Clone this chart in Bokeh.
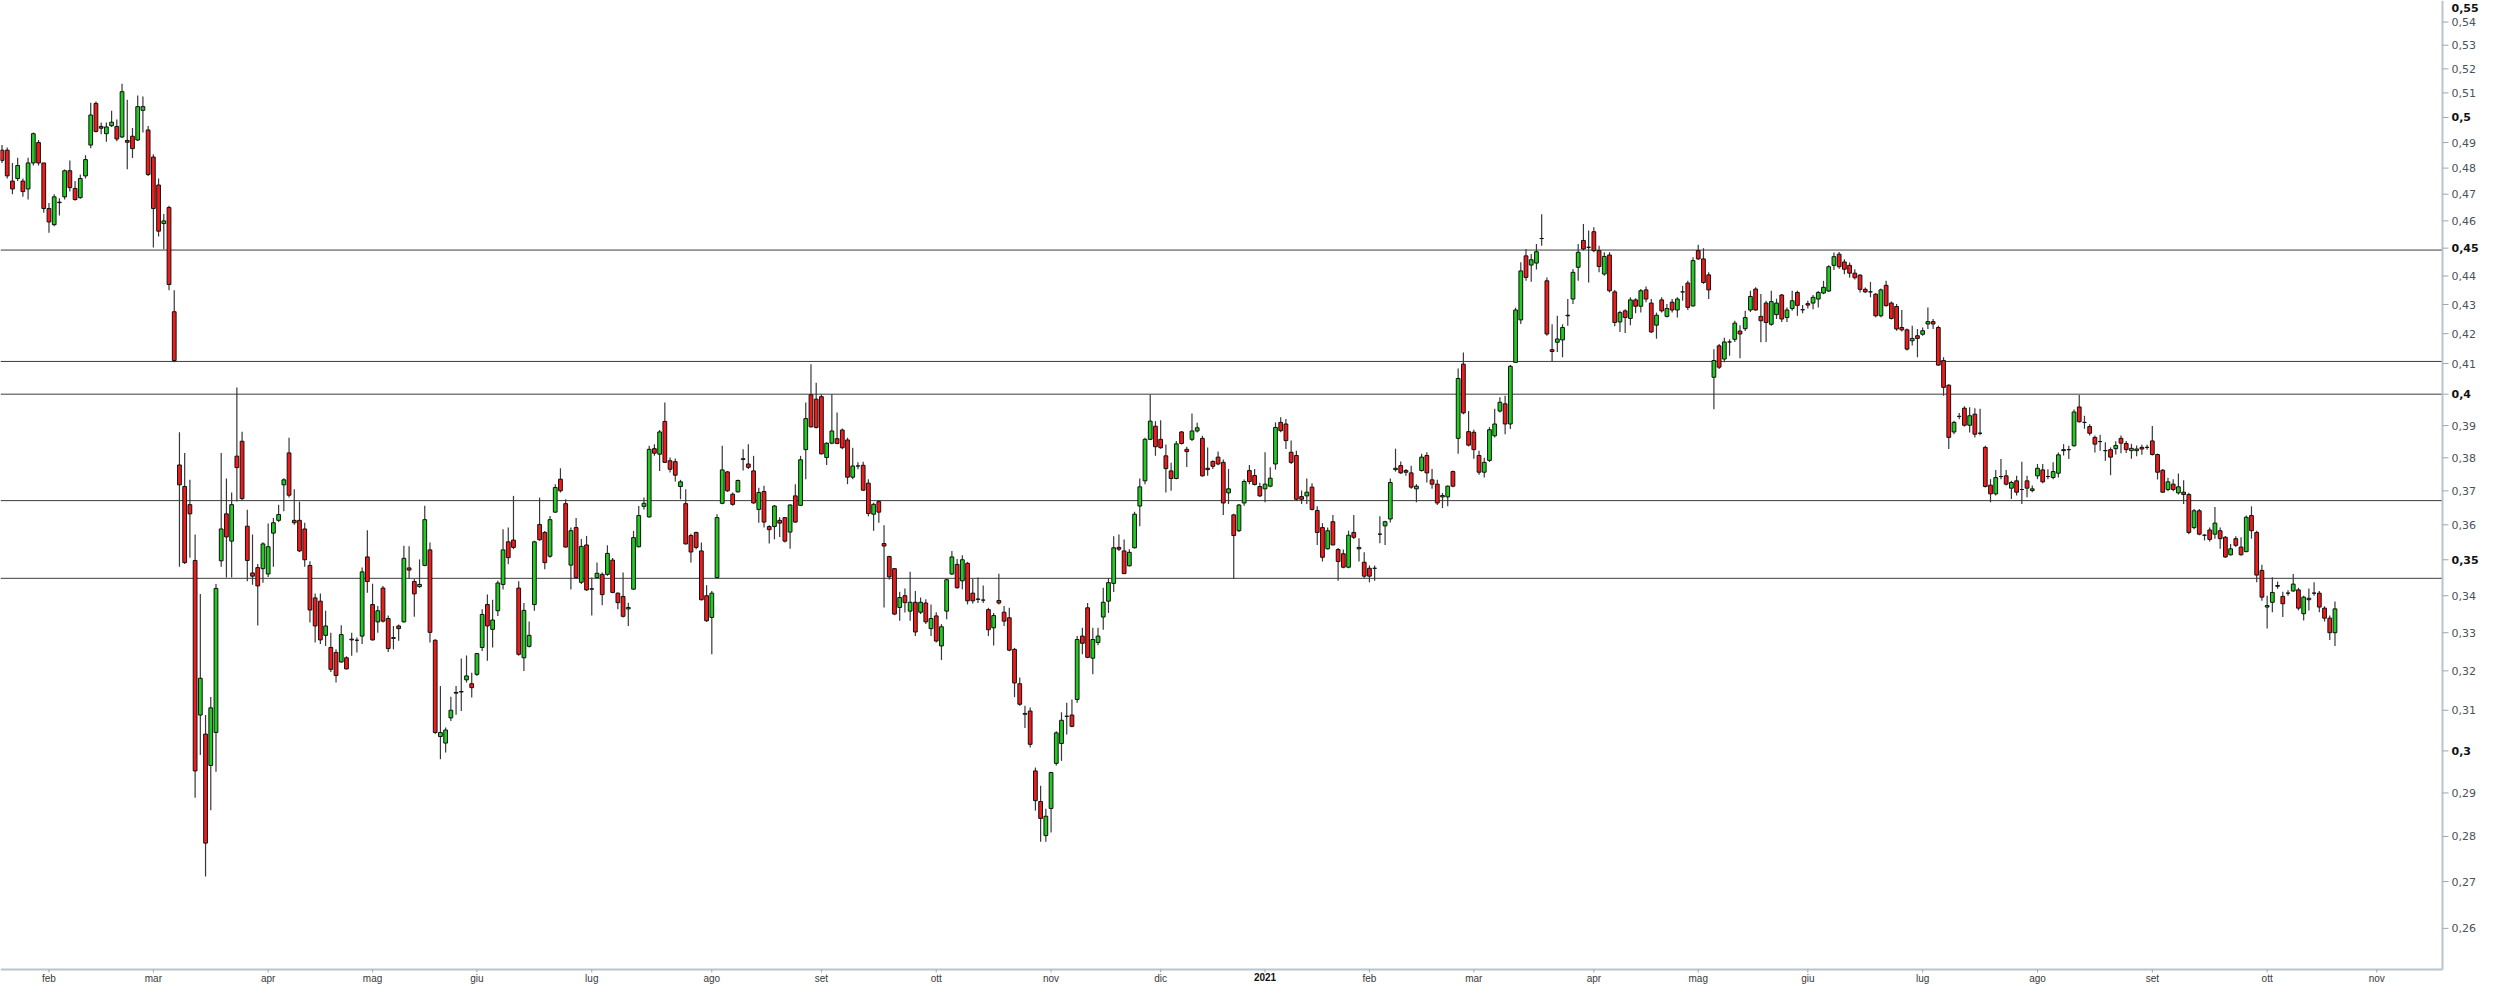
import math
from bokeh.plotting import figure
from bokeh.models import ColumnDataSource
from bokeh.core.properties import value, field
from bokeh.embed import file_html
from bokeh.resources import INLINE

# ---- data ----
opens = [
 .487, .487, .475, .476, .475, .472, .482, .490, .482, .4646,
 .4586, .4668, .469, .479, .4722, .4687, .477, .489, .5057, .4964,
 .4935, .4967, .4964, .4922, .4908, .4925, .4910, .5029, .4950, .4843,
 .4735, .4590, .4650, .4275, .3778, .3713, .3659, .3498, .3088, .3041,
 .2965, .3045, .3497, .3632, .3553, .3805, .3851, .3596, .3463, .3478,
 .3475, .3460, .3576, .3613, .3718, .3815, .3613, .3613, .3588, .3484,
 .3394, .3385, .3293, .3261, .3248, .3223, .3234, .3281, .3280, .3291,
 .3508, .3376, .3329, .3421, .3338, .3287, .3318, .3329, .3477, .3439,
 .3425, .3484, .3528, .3280, .3035, .3019, .3081, .3143, .3146, .3177,
 .3167, .3191, .3261, .3376, .3309, .3359, .3431, .3551, .3556, .3421,
 .3234, .3264, .3376, .3601, .3578, .3510, .3637, .3735, .3662, .3485,
 .3592, .3437, .3542, .3419, .3450, .3459, .3459, .3499, .3407, .3398,
 .3364, .3418, .3537, .3654, .3623, .3828, .3811, .3913, .3791, .3788,
 .3713, .3662, .3569, .3578, .3525, .3400, .3341, .3450, .3663, .3757,
 .3690, .3697, .3795, .3781, .3760, .3645, .3698, .3595, .3595, .3613,
 .3621, .3579, .3685, .3657, .3825, .3998, .3984, .3992, .3801, .3845,
 .3859, .3886, .3855, .3741, .3775, .3777, .3723, .3631, .3668, .3546,
 .3509, .3475, .3368, .3400, .3358, .3382, .3355, .3380, .3311, .3345,
 .3265, .3358, .3460, .3487, .3441, .3490, .3407, .3390, .3388, .3362,
 .3313, .3387, .3355, .3340, .3256, .3167, .3090, .3098, .2952, .2880,
 .2802, .2864, .2970, .3018, .3085, .3088, .3127, .3291, .3367, .3233,
 .3274, .3342, .3385, .3434, .3535, .3525, .3483, .3534, .3655, .3730,
 .3857, .3898, .3857, .3806, .3760, .3737, .3880, .3826, .3857, .3883,
 .3860, .3768, .3789, .3802, .3786, .3694, .3629, .3583, .3664, .3761,
 .3746, .3713, .3706, .3714, .3781, .3910, .3905, .3817, .3807, .3683,
 .3685, .3711, .3642, .3592, .3531, .3609, .3529, .3517, .3479, .3578,
 .3531, .3493, .3476, .3476, .3573, .3597, .3617, .3764, .3776, .3761,
 .3754, .3706, .3761, .3807, .3733, .3720, .3682, .3682, .3758, .3860,
 .4098, .3881, .3879, .3807, .3756, .3792, .3868, .3946, .3969, .3905,
 .4104, .4247, .4472, .4439, .4446, .4535, .4383, .4146, .4171, .4179,
 .4261, .4319, .4431, .4528, .4503, .4560, .4491, .4407, .4475, .4344,
 .4240, .4278, .4252, .4316, .4294, .4351, .4305, .4229, .4316, .4259,
 .4308, .4281, .4344, .4375, .4295, .4491, .4461, .4404, .4055, .4159,
 .4115, .4172, .4181, .4209, .4217, .4281, .4354, .4259, .4305, .4232,
 .4265, .4333, .4255, .4286, .4342, .4282, .4303, .4305, .4319, .4340,
 .4347, .4438, .4478, .4450, .4438, .4410, .4403, .4353, .4344, .4336,
 .4261, .4367, .4305, .4293, .4221, .4213, .4176, .4193, .4198, .4233,
 .4241, .4221, .4110, .4029, .3880, .3929, .3955, .3901, .3936, .3876,
 .3832, .3717, .3691, .3743, .3745, .3708, .3730, .3704, .3730, .3701,
 .3745, .3763, .3743, .3740, .3753, .3822, .3825, .3837, .3959, .3910,
 .3897, .3863, .3850, .3822, .3825, .3828, .3860, .3844, .3822, .3822,
 .3832, .3832, .3852, .3810, .3762, .3704, .3720, .3694, .3696, .3689,
 .3592, .3641, .3570, .3585, .3573, .3583, .3564, .3514, .3560, .3536,
 .3523, .3627, .3578, .3470, .3369, .3382, .3426, .3398, .3407, .3413,
 .3416, .3351, .3389, .3407, .3407, .3366, .3339, .3300,
]
highs = [
 .489, .488, .482, .484, .476, .484, .494, .491, .482, .4667,
 .470, .4685, .4795, .483, .475, .4775, .485, .506, .5065, .498,
 .498, .5027, .4992, .5138, .5072, .4958, .5089, .5085, .4966, .4854,
 .476, .4626, .4656, .4350, .3879, .3815, .3733, .3572, .3405, .3088,
 .3133, .3432, .3815, .3737, .3695, .4022, .3881, .3644, .3572, .3488,
 .3550, .3604, .3620, .3659, .3738, .3862, .3705, .3668, .3606, .3496,
 .3406, .3406, .3359, .3300, .3256, .3320, .3238, .3300, .3287, .3478,
 .3584, .3433, .3372, .3427, .3346, .3318, .3322, .3540, .3538, .3446,
 .3501, .3656, .3549, .3283, .3161, .3057, .3134, .3161, .3232, .3240,
 .3195, .3246, .3363, .3403, .3389, .3441, .3587, .3592, .3685, .3440,
 .3380, .3330, .3554, .3680, .3582, .3626, .3720, .3768, .3675, .3592,
 .3620, .3559, .3568, .3450, .3492, .3464, .3541, .3505, .3409, .3464,
 .3381, .3582, .3655, .3680, .3837, .3842, .3886, .3973, .3801, .3798,
 .3733, .3705, .3574, .3580, .3549, .3429, .3413, .3631, .3837, .3760,
 .3695, .3734, .3826, .3842, .3806, .3709, .3715, .3599, .3658, .3622,
 .3623, .3660, .3720, .3806, .3973, .4098, .4037, .4000, .3847, .4000,
 .3941, .3891, .3862, .3831, .3786, .3788, .3735, .3665, .3672, .3599,
 .3511, .3477, .3411, .3420, .3466, .3413, .3395, .3390, .3376, .3355,
 .3323, .3446, .3525, .3502, .3513, .3494, .3446, .3450, .3428, .3367,
 .3353, .3461, .3372, .3367, .3260, .3183, .3111, .3107, .2960, .2917,
 .2863, .2950, .3048, .3095, .3119, .3127, .3291, .3313, .3380, .3313,
 .3313, .3422, .3448, .3567, .3572, .3558, .3530, .3638, .3737, .3862,
 .3999, .3914, .3917, .3841, .3785, .3852, .3883, .3834, .3938, .3909,
 .3868, .3832, .3792, .3819, .3795, .3766, .3632, .3661, .3734, .3778,
 .3766, .3724, .3817, .3771, .3910, .3926, .3921, .3853, .3822, .3701,
 .3737, .3723, .3654, .3605, .3592, .3629, .3533, .3529, .3583, .3629,
 .3561, .3521, .3484, .3484, .3625, .3612, .3737, .3828, .3789, .3766,
 .3776, .3720, .3812, .3817, .3766, .3733, .3694, .3716, .3761, .4084,
 .4137, .3946, .3887, .3822, .3800, .3895, .3953, .3990, .3995, .4095,
 .4289, .4449, .4497, .4479, .4515, .4625, .4395, .4232, .4261, .4232,
 .4319, .4425, .4515, .4588, .4564, .4576, .4509, .4485, .4485, .4351,
 .4278, .4284, .4325, .4322, .4354, .4363, .4319, .4272, .4325, .4302,
 .4319, .4325, .4365, .4383, .4467, .4512, .4500, .4413, .4148, .4165,
 .4186, .4181, .4244, .4229, .4278, .4348, .4360, .4337, .4313, .4348,
 .4320, .4337, .4290, .4348, .4348, .4298, .4313, .4333, .4347, .4383,
 .4438, .4484, .4486, .4460, .4448, .4424, .4406, .4359, .4379, .4340,
 .4356, .4383, .4310, .4302, .4281, .4218, .4227, .4216, .4221, .4290,
 .4250, .4227, .4121, .4032, .3915, .3940, .3961, .3958, .3955, .3953,
 .3837, .3735, .3763, .3796, .3763, .3730, .3745, .3788, .3745, .3716,
 .3781, .3781, .3765, .3786, .3816, .3842, .3837, .3951, .3997, .3931,
 .3904, .3869, .3871, .3848, .3832, .3851, .3869, .3852, .3843, .3838,
 .3840, .3840, .3899, .3813, .3766, .3739, .3735, .3752, .3732, .3694,
 .3646, .3646, .3573, .3592, .3652, .3592, .3568, .3545, .3567, .3564,
 .3627, .3654, .3583, .3486, .3400, .3451, .3439, .3411, .3415, .3460,
 .3422, .3400, .3420, .3437, .3413, .3371, .3346, .3384,
]
lows = [
 .482, .476, .470, .475, .469, .468, .481, .481, .463, .4556,
 .458, .462, .468, .471, .4675, .4683, .476, .4877, .494, .4933,
 .4903, .4962, .4905, .4918, .4796, .4839, .4906, .4940, .4770, .4502,
 .4542, .4496, .4350, .4104, .3480, .3488, .3506, .2889, .2990, .2711,
 .2860, .2950, .3480, .3450, .3450, .3668, .3672, .3440, .3430, .3319,
 .3436, .3452, .3480, .3608, .3640, .3680, .3600, .3522, .3480, .3327,
 .3274, .3270, .3265, .3197, .3170, .3221, .3204, .3239, .3248, .3270,
 .3408, .3279, .3300, .3327, .3249, .3256, .3279, .3327, .3446, .3343,
 .3422, .3482, .3274, .3041, .2980, .2996, .3073, .3089, .3098, .3170,
 .3132, .3187, .3252, .3226, .3261, .3345, .3417, .3487, .3530, .3239,
 .3200, .3261, .3359, .3554, .3473, .3506, .3635, .3695, .3535, .3417,
 .3446, .3432, .3413, .3346, .3448, .3374, .3455, .3407, .3363, .3341,
 .3318, .3416, .3535, .3645, .3621, .3806, .3760, .3784, .3755, .3728,
 .3675, .3543, .3492, .3530, .3387, .3329, .3243, .3449, .3660, .3697,
 .3656, .3695, .3761, .3766, .3662, .3606, .3592, .3546, .3558, .3565,
 .3549, .3531, .3606, .3655, .3735, .3894, .3891, .3810, .3778, .3842,
 .3842, .3826, .3720, .3735, .3765, .3700, .3625, .3583, .3606, .3368,
 .3445, .3347, .3332, .3354, .3332, .3291, .3350, .3323, .3291, .3274,
 .3228, .3336, .3457, .3419, .3418, .3376, .3379, .3380, .3380, .3291,
 .3266, .3376, .3318, .3251, .3133, .3111, .3056, .3008, .2859, .2788,
 .2788, .2809, .2965, .2976, .3040, .3058, .3119, .3243, .3233, .3191,
 .3267, .3308, .3353, .3410, .3525, .3460, .3481, .3532, .3596, .3720,
 .3855, .3806, .3828, .3695, .3700, .3735, .3841, .3772, .3852, .3878,
 .3743, .3745, .3766, .3777, .3629, .3661, .3447, .3579, .3656, .3720,
 .3716, .3682, .3666, .3711, .3764, .3879, .3827, .3781, .3670, .3661,
 .3661, .3642, .3542, .3495, .3529, .3541, .3441, .3476, .3476, .3559,
 .3495, .3449, .3437, .3441, .3547, .3542, .3607, .3758, .3751, .3745,
 .3706, .3666, .3758, .3725, .3706, .3658, .3649, .3654, .3711, .3812,
 .3936, .3835, .3797, .3748, .3740, .3787, .3863, .3941, .3873, .3889,
 .4102, .4233, .4383, .4380, .4423, .4509, .4193, .4106, .4138, .4121,
 .4227, .4302, .4383, .4491, .4377, .4485, .4413, .4401, .4342, .4225,
 .4206, .4202, .4229, .4270, .4272, .4308, .4202, .4183, .4272, .4255,
 .4272, .4255, .4313, .4281, .4293, .4458, .4372, .4319, .3952, .4082,
 .4104, .4126, .4172, .4118, .4209, .4274, .4278, .4171, .4172, .4227,
 .4250, .4240, .4240, .4278, .4261, .4270, .4286, .4284, .4290, .4336,
 .4344, .4421, .4426, .4406, .4394, .4388, .4342, .4340, .4325, .4256,
 .4256, .4293, .4248, .4210, .4207, .4143, .4160, .4121, .4193, .4216,
 .4216, .4093, .3995, .3827, .3873, .3920, .3897, .3878, .3863, .3870,
 .3710, .3666, .3686, .3735, .3716, .3676, .3686, .3661, .3681, .3696,
 .3735, .3723, .3735, .3735, .3740, .3807, .3796, .3835, .3910, .3890,
 .3869, .3816, .3822, .3791, .3747, .3810, .3814, .3815, .3797, .3805,
 .3809, .3825, .3807, .3734, .3694, .3699, .3699, .3689, .3661, .3573,
 .3587, .3570, .3555, .3552, .3560, .3531, .3505, .3512, .3536, .3512,
 .3521, .3560, .3437, .3386, .3311, .3355, .3419, .3342, .3400, .3411,
 .3360, .3333, .3360, .3400, .3355, .3330, .3281, .3265,
]
closes = [
 .483, .477, .472, .481, .471, .482, .4935, .482, .4646, .4596,
 .469, .4670, .479, .4725, .468, .476, .4833, .501, .4944, .4957,
 .4962, .4981, .4914, .5105, .4901, .4876, .5044, .5044, .4775, .4646,
 .4562, .4600, .4370, .4110, .3718, .3492, .3632, .2952, .3181, .2785,
 .3106, .3420, .3588, .3565, .3659, .3770, .3677, .3498, .3454, .3427,
 .3545, .3537, .3606, .3630, .3733, .3687, .3606, .3525, .3500, .3361,
 .3318, .3281, .3318, .3204, .3188, .3295, .3205, .3283, .3280, .3466,
 .3439, .3281, .3359, .3331, .3258, .3285, .3311, .3504, .3471, .3405,
 .3431, .3615, .3301, .3045, .3045, .3051, .3100, .3145, .3147, .3187,
 .3157, .3245, .3349, .3318, .3334, .3435, .3528, .3506, .3535, .3243,
 .3360, .3293, .3551, .3557, .3492, .3615, .3710, .3700, .3536, .3583,
 .3450, .3538, .3416, .3418, .3462, .3403, .3518, .3409, .3381, .3344,
 .3368, .3563, .3627, .3663, .3826, .3814, .3880, .3786, .3765, .3747,
 .3727, .3545, .3522, .3535, .3389, .3332, .3407, .3621, .3763, .3700,
 .3660, .3731, .3797, .3771, .3664, .3695, .3608, .3586, .3655, .3605,
 .3553, .3658, .3608, .3794, .3922, .3896, .3894, .3812, .3845, .3883,
 .3844, .3831, .3741, .3775, .3775, .3702, .3633, .3660, .3637, .3539,
 .3452, .3350, .3395, .3381, .3382, .3302, .3382, .3329, .3338, .3278,
 .3316, .3444, .3508, .3422, .3500, .3386, .3386, .3391, .3388, .3308,
 .3346, .3380, .3331, .3254, .3169, .3115, .3092, .3016, .2882, .2841,
 .2846, .2948, .3044, .3075, .3085, .3060, .3282, .3272, .3235, .3282,
 .3291, .3382, .3436, .3534, .3530, .3461, .3521, .3631, .3712, .3857,
 .3914, .3834, .3831, .3767, .3737, .3843, .3844, .3819, .3883, .3893,
 .3745, .3764, .3774, .3781, .3664, .3706, .3569, .3658, .3728, .3728,
 .3719, .3685, .3720, .3738, .3894, .3884, .3853, .3786, .3675, .3675,
 .3696, .3645, .3578, .3507, .3583, .3542, .3495, .3479, .3570, .3564,
 .3535, .3454, .3454, .3476, .3573, .3609, .3725, .3768, .3754, .3756,
 .3711, .3714, .3802, .3754, .3720, .3664, .3686, .3714, .3714, .4051,
 .3940, .3839, .3825, .3756, .3786, .3887, .3905, .3974, .3905, .4091,
 .4281, .4418, .4395, .4458, .4487, .4535, .4199, .4140, .4182, .4221,
 .4263, .4413, .4485, .4497, .4503, .4491, .4434, .4470, .4348, .4238,
 .4272, .4255, .4316, .4294, .4348, .4319, .4206, .4263, .4278, .4286,
 .4281, .4319, .4344, .4290, .4455, .4461, .4377, .4351, .4110, .4088,
 .4172, .4172, .4236, .4199, .4255, .4328, .4281, .4244, .4238, .4310,
 .4305, .4250, .4281, .4313, .4297, .4282, .4298, .4325, .4342, .4360,
 .4433, .4469, .4433, .4424, .4410, .4394, .4353, .4344, .4344, .4261,
 .4351, .4296, .4252, .4216, .4213, .4148, .4184, .4184, .4210, .4241,
 .4233, .4095, .4022, .3863, .3910, .3929, .3901, .3931, .3873, .3876,
 .3713, .3691, .3740, .3743, .3720, .3725, .3696, .3704, .3708, .3706,
 .3768, .3727, .3743, .3758, .3809, .3825, .3825, .3943, .3912, .3910,
 .3876, .3842, .3850, .3822, .3802, .3838, .3845, .3825, .3829, .3827,
 .3827, .3832, .3810, .3756, .3696, .3727, .3704, .3712, .3689, .3578,
 .3641, .3573, .3570, .3558, .3605, .3560, .3508, .3531, .3541, .3514,
 .3622, .3583, .3457, .3396, .3373, .3409, .3428, .3378, .3407, .3432,
 .3366, .3396, .3393, .3407, .3369, .3339, .3300, .3364,
]

# month ticks: trading-day index of the first session of each month
month_idx = [9, 29, 51, 71, 91, 113, 136, 157, 179, 201, 222, 242,
             262, 282, 305, 325, 346, 368, 390, 412, 434, 455]
month_lbl = ["feb", "mar", "apr", "mag", "giu", "lug", "ago", "set", "ott", "nov", "dic", "2021",
             "feb", "mar", "apr", "mag", "giu", "lug", "ago", "set", "ott", "nov"]
bold_x_lbl = ["2021"]

y_ticks = [0.26, 0.27, 0.28, 0.29, 0.3, 0.31, 0.32, 0.33, 0.34, 0.35, 0.36, 0.37, 0.38, 0.39, 0.4,
           0.41, 0.42, 0.43, 0.44, 0.45, 0.46, 0.47, 0.48, 0.49, 0.5, 0.51, 0.52, 0.53, 0.54, 0.55]
y_lbl = ["0,26", "0,27", "0,28", "0,29", "0,3", "0,31", "0,32", "0,33", "0,34", "0,35", "0,36", "0,37",
         "0,38", "0,39", "0,4", "0,41", "0,42", "0,43", "0,44", "0,45", "0,46", "0,47", "0,48", "0,49",
         "0,5", "0,51", "0,52", "0,53", "0,54", "0,55"]
bold_y = [0.3, 0.35, 0.4, 0.45, 0.5, 0.55]

levels = [0.4493, 0.4107, 0.400, 0.3671, 0.3448]

# ---- geometry of the canvas (pixels -> data) ----
W, H = 2484, 984
X_PX = 5.2192            # pixels per trading session
X_OFF = 1.5              # pixel of session 0
X0 = -X_OFF / X_PX
X1 = (W - X_OFF) / X_PX
LN_PX = 1240.0           # pixels per unit of ln(price)
LN_TOP = -0.598 - 1.0 / LN_PX
Y1 = math.exp(LN_TOP)
Y0 = math.exp(LN_TOP - H / LN_PX)

def xd(px):
    return X0 + px / X_PX

def yd(py):
    return math.exp(LN_TOP - py / LN_PX)

AX_R = 2442              # right axis line (pixels)
AX_B = 969               # bottom axis line (pixels)

# ---- build ----
n = min(len(opens), len(highs), len(lows), len(closes))
UP, DOWN, FLAT = "#1fcc1f", "#f41a1a", "#000000"
src = ColumnDataSource(dict(
    x=list(range(n)), o=opens[:n], h=highs[:n], l=lows[:n], c=closes[:n],
    top=[max(a, b) for a, b in zip(opens[:n], closes[:n])],
    bot=[min(a, b) for a, b in zip(opens[:n], closes[:n])],
    col=[UP if c > o else (DOWN if c < o else FLAT) for o, c in zip(opens[:n], closes[:n])],
))

p = figure(width=W, height=H, x_range=(X0, X1), y_range=(Y0, Y1), y_axis_type="log",
           output_backend="svg", toolbar_location=None)
p.min_border = 0
p.min_border_left = 0
p.min_border_right = 0
p.min_border_top = 0
p.min_border_bottom = 0
p.axis.visible = False
p.outline_line_color = None
p.background_fill_color = "white"
p.border_fill_color = "white"
p.xgrid.visible = False
p.ygrid.visible = False

# support / resistance lines across the price area
for lv in levels:
    p.segment(x0=[xd(0)], y0=[lv], x1=[xd(AX_R)], y1=[lv], line_color="#3c3c3c", line_width=1)

# candles
p.segment(x0="x", y0="l", x1="x", y1="h", source=src, line_color="#383838", line_width=1.2)
p.vbar(x="x", width=0.72, top="top", bottom="bot", source=src,
       fill_color="col", line_color="#111111", line_width=1)

# ---- axes drawn with the same scales ----
AXC = "#b8c5cc"
p.segment(x0=[xd(AX_R)], y0=[yd(0)], x1=[xd(AX_R)], y1=[yd(AX_B)], line_color=AXC, line_width=2)
p.segment(x0=[xd(0)], y0=[yd(AX_B)], x1=[xd(AX_R)], y1=[yd(AX_B)], line_color=AXC, line_width=2)

# y ticks + labels
p.segment(x0=[xd(AX_R)] * len(y_ticks), y0=y_ticks, x1=[xd(AX_R + 6)] * len(y_ticks), y1=y_ticks,
          line_color="#9aa8b0", line_width=1)
ylab_y = [min(v, yd(7)) for v in y_ticks]
ysrc = ColumnDataSource(dict(
    x=[xd(AX_R + 9)] * len(y_ticks), y=ylab_y, t=y_lbl,
    st=["bold" if v in bold_y else "normal" for v in y_ticks],
    cl=["#111111" if v in bold_y else "#4a525a" for v in y_ticks],
))
p.text(x="x", y="y", text="t", source=ysrc, text_align="left", text_baseline="middle",
       text_font=value("DejaVu Sans"), text_font_size=value("11px"),
       text_font_style=field("st"), text_color=field("cl"))

# x ticks + labels
p.segment(x0=month_idx, y0=[yd(AX_B)] * len(month_idx), x1=month_idx, y1=[yd(AX_B + 3)] * len(month_idx),
          line_color="#9aa8b0", line_width=1)
xsrc = ColumnDataSource(dict(
    x=month_idx, y=[yd(AX_B + 3)] * len(month_idx), t=month_lbl,
    st=["bold" if t in bold_x_lbl else "normal" for t in month_lbl],
    cl=["#111111" if t in bold_x_lbl else "#3a3a3a" for t in month_lbl],
))
p.text(x="x", y="y", text="t", source=xsrc, text_align="center", text_baseline="top",
       text_font=value("Liberation Sans"), text_font_size=value("10px"),
       text_font_style=field("st"), text_color=field("cl"))

open("out.html", "w").write(file_html(p, INLINE))
